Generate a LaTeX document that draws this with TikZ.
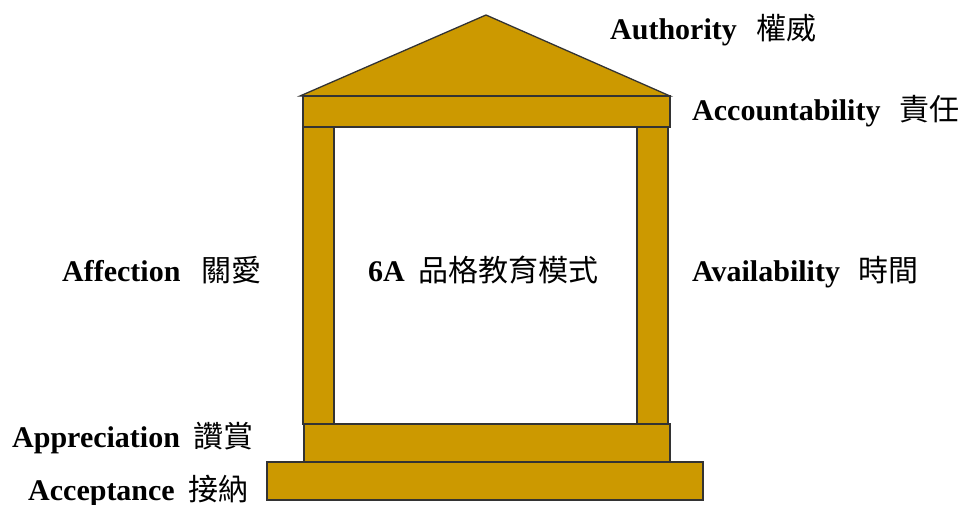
\documentclass[tikz,border=0pt]{standalone}
\usepackage{fontspec}
\setmainfont{Liberation Serif}
\newfontfamily\cjk{Noto Sans CJK TC}
\definecolor{gold}{HTML}{CC9900}
\definecolor{edge}{HTML}{333333}
\newcommand{\zh}[1]{{\cjk\mdseries #1}}
\begin{document}
\begin{tikzpicture}[x=1pt,y=-1pt,
  part/.style={fill=gold,draw=edge,line width=1.3pt,line join=miter},
  lbl/.style={anchor=base west,inner sep=0pt,font=\fontsize{30}{36}\selectfont\bfseries}]
\useasboundingbox (0,0) rectangle (967,505);
% roof
\draw[part] (300,96) -- (486,15) -- (670,96) -- cycle;
% columns
\draw[part] (303,126) rectangle (334,424);
\draw[part] (637,126) rectangle (668,424);
% top beam
\draw[part] (303,96) rectangle (670,127);
% bottom beam and base
\draw[part] (304,424) rectangle (670,462);
\draw[part] (267,462) rectangle (703,500);
% labels
\node[lbl] (authority) at (610,40) {Authority\hspace{20pt}\zh{權威}};
\node[lbl] (accountability) at (692,121) {Accountability\hspace{19pt}\zh{責任}};
\node[lbl] (affection) at (62,281) {Affection\hspace{21pt}\zh{關愛}};
\node[lbl] (title) at (368,281) {6A\hspace{14pt}\zh{品格教育模式}};
\node[lbl] (availability) at (692,281) {Availability\hspace{19pt}\zh{時間}};
\node[lbl] (appreciation) at (12,447) {Appreciation\hspace{14pt}\zh{讚賞}};
\node[lbl] (acceptance) at (28,500) {Acceptance\hspace{14pt}\zh{接納}};
\end{tikzpicture}
\end{document}
